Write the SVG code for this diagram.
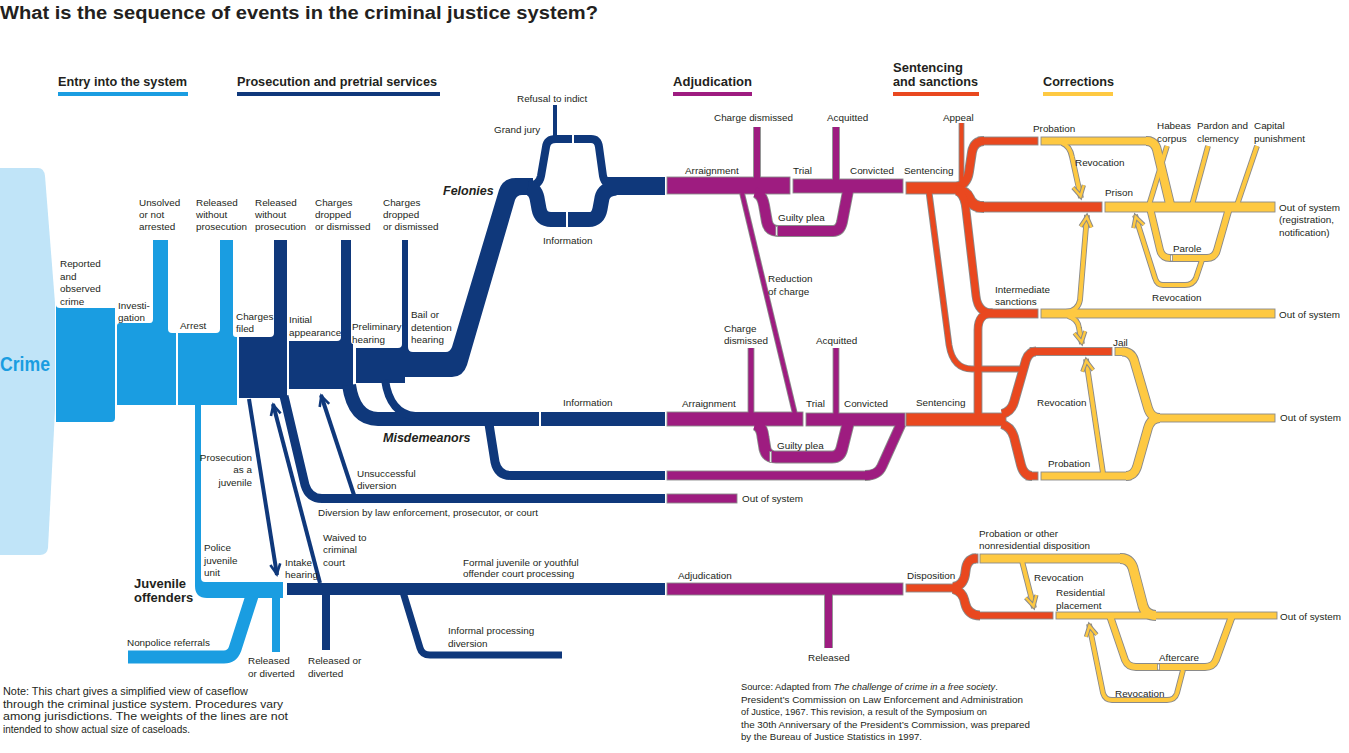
<svg xmlns="http://www.w3.org/2000/svg" width="1349" height="753" viewBox="0 0 1349 753">
<style>
text{font-family:"Liberation Sans",Arial,sans-serif;font-size:9.9px;fill:#231f20}
.b{font-weight:bold}
.bi{font-weight:bold;font-style:italic;font-size:12.5px}
.hd{font-weight:bold;font-size:13px}
.ra{text-anchor:end}
.sm{font-size:10.8px}
.src{font-size:9.8px}
.lb{fill:#1a9de1}
.nv{fill:#0f387b}
.o{fill:none;stroke:#8a8a8a;stroke-linejoin:round}
.f{fill:none;stroke-linejoin:round}
.P{stroke:#9e1c80}.R{stroke:#e9481f}.Y{stroke:#fec942}
.nls{fill:none;stroke:#0f387b;stroke-linejoin:round}
.lbs{fill:none;stroke:#1a9de1;stroke-linejoin:round}
.o.w4{stroke-width:5.8}.f.w4{stroke-width:4}
.o.w5{stroke-width:6.8}.f.w5{stroke-width:5}
.o.w6{stroke-width:7.8}.f.w6{stroke-width:6}
.o.w7{stroke-width:8.8}.f.w7{stroke-width:7}
.o.w8{stroke-width:9.8}.f.w8{stroke-width:8}
.o.w9{stroke-width:10.8}.f.w9{stroke-width:9}
.o.w10{stroke-width:11.8}.f.w10{stroke-width:10}
.o.w11{stroke-width:12.8}.f.w11{stroke-width:11}
.bp{fill:#9e1c80;stroke:#8a8a8a;stroke-width:.9}
.br{fill:#e9481f;stroke:#8a8a8a;stroke-width:.9}
.by{fill:#fec942;stroke:#8a8a8a;stroke-width:.9}
.gp{fill:#fff;stroke:#8a8a8a;stroke-width:.8}
.wg{fill:#fff}
.ay{marker-end:url(#ay)}
.an{marker-end:url(#an)}
</style>
<defs>
<marker id="ay" markerUnits="userSpaceOnUse" markerWidth="20" markerHeight="20" refX="0" refY="0" orient="auto" overflow="visible">
<path d="M-12,-5.5 L-2,0 L-12,5.5" fill="none" stroke="#8a8a8a" stroke-width="4.4"/>
<path d="M-12,-5.5 L-2,0 L-12,5.5" fill="none" stroke="#fec942" stroke-width="2.4"/>
</marker>
<marker id="an" markerUnits="userSpaceOnUse" markerWidth="20" markerHeight="20" refX="0" refY="0" orient="auto" overflow="visible">
<path d="M-11,-5 L-1,0 L-11,5" fill="none" stroke="#0f387b" stroke-width="2.6"/>
</marker>
<path id="p1" d="M757,127 V180"/>
<path id="p2" d="M836,127 V182"/>
<path id="p3" d="M755,192 Q762,194 764,205 L767,222 Q769,231 778,231 L833,231 Q840,231 842,222 L848,191"/>
<path id="p4" d="M742,193 L795,414"/>
<path id="p5" d="M751,348 V414"/>
<path id="p6" d="M836,348 V415"/>
<path id="p7" d="M755,424 Q762,426 763,437 L765,449 Q767,457 776,457 L832,457 Q840,457 842,448 L848,424"/>
<path id="p8" d="M865,475.5 Q878,475.5 882,466 L901,424"/>
<path id="p9" d="M828.5,592 V648"/>
<path id="r0" d="M961.5,123 V185"/>
<path id="r1" d="M956,187 Q967,185 969,172 L972,152 Q974,141 984,141"/>
<path id="r2" d="M956,190 Q966,191 969,198 Q972,207 984,207"/>
<path id="r3" d="M959,192 Q965,197 966,210 L976,296 Q978,313 992,313"/>
<path id="r4" d="M929,192 L949,345 Q953,369 972,369 L1024,369"/>
<path id="r5" d="M978,417 L978,330 Q978,313 993,313"/>
<path id="r6" d="M1002,414 Q1011,412 1014,402 L1026,360 Q1029,351.5 1036,351.5"/>
<path id="r7" d="M1002,424 Q1011,427 1014,437 L1021,465 Q1024,476 1032,476"/>
<path id="r8" d="M953,587 Q963,586 965,575 L966,568 Q968,558.5 976,558.5"/>
<path id="r9" d="M953,589 Q963,591 965,603 Q968,615.5 980,615.5"/>
<path id="y1" d="M1146,141 Q1155,141 1157,150 L1170,204"/>
<path id="y2" d="M1167,146 L1149,205"/>
<path id="y3" d="M1208,146 L1192,205"/>
<path id="y4" d="M1257,146 L1237,205"/>
<path id="y5" d="M1150,208 L1160,250 Q1162,258 1170,258 L1207,258 Q1215,258 1217,250 L1229,208"/>
<path id="y6" d="M1202,260 L1196,278 Q1193,285 1185,285 L1163,285 Q1157,285 1155,278 L1135,215"/>
<path id="y7" d="M1062,143 Q1070,146 1072,157 L1081,198"/>
<path id="y8" d="M1066,312 Q1078,311 1080,300 L1087,215"/>
<path id="y9" d="M1068,316 Q1078,319 1079,328 L1082,344"/>
<path id="y10" d="M1122,351.5 Q1131,351.5 1134,360 L1148,408 Q1151,418 1160,418"/>
<path id="y11" d="M1126,476 Q1134,476 1137,467 L1148,428 Q1151,418 1160,418"/>
<path id="y12" d="M1103,473 L1086,359"/>
<path id="y13" d="M1120,558.5 Q1130,558.5 1133,568 L1143,606 Q1146,615.5 1156,615.5"/>
<path id="y14" d="M1022,561 L1034,608"/>
<path id="y15" d="M1110,616 L1125,660 Q1128,667 1136,667 L1205,667 Q1213,667 1216,660 L1232,616"/>
<path id="y16" d="M1183,670 L1177,693 Q1175,700 1167,700 L1112,700 Q1105,700 1103,693 L1089,624"/>
</defs>

<rect width="1349" height="753" fill="#fff"/>

<g id="connectors">
<path d="M0,168 L38,168 Q44,168 45,176 L55,303 L55,410 L48,548 Q47,555 40,555 L0,555 Z" fill="#c0e4f8"/>
<path class="lb" d="M56,305 Q56,308 60,308 L115,308 L115,418 Q115,422 111,422 L56,422 Z"/>
<path class="lb" d="M117,326 Q117,323 120,323 L150,323 Q153,323 153,319 L153,240 L168,240 L168,329 Q168,333 172,333 L176,333 L176,405 L117,405 Z"/>
<path class="lb" d="M178,333 L216,333 Q220,333 220,329 L220,240 L233,240 L233,334 Q233,337 236,337 L237,337 L237,405 L178,405 Z"/>
<path class="lb" d="M195,404 L201,404 L201,578 Q201,582 205,582 L283,582 L283,598 L207,598 Q195,598 195,586 Z"/>
<path class="lbs" stroke-width="13" d="M128,657 L224,657 Q232,657 235,649 L252,596"/>
<rect class="lb" x="272" y="596" width="8" height="56"/>

<path class="nv" d="M239,337 L270,337 Q274,337 274,333 L274,240 L287,240 L287,398 L239,398 Z"/>
<path class="nv" d="M289,341 L337,341 Q341,341 341,337 L341,240 L351,240 L351,341 Q351,344 353,344 L353,389 L289,389 Z"/>
<path class="nv" d="M356,348 L398,348 Q402,348 402,344 L402,240 L408,240 L408,347 Q408,352 413,352 L446,352 Q450,352 452,347 L499,190 Q503,178 516,178 L533,178 L533,195 L522,195 Q517,195 515,200 L467,365 Q463,377 452,377 L405,377 L405,383 L356,383 Z"/>
<path class="nls" stroke-width="8" d="M528,186 Q539,186 541,176 L546,147 Q547,139 556,139 L591,139 Q598,139 599,147 L603,176 Q605,186 616,186"/>
<path class="nls" stroke-width="15" d="M528,188 Q535,189 537,198 L539,209 Q541,219.5 551,219.5 L589,219.5 Q598,219.5 600,209 L602,198 Q604,189 616,188"/>
<rect class="nv" x="603" y="177" width="62" height="18"/>
<rect class="nv" x="553" y="105" width="4" height="35"/>
<rect class="wg" x="572" y="133" width="2" height="12"/>
<rect class="wg" x="566" y="210" width="2" height="19"/>
<path class="nls" stroke-width="14" d="M349,385 Q354,419 378,419 L665,419"/>
<path class="nls" stroke-width="8" d="M385,380 Q390,414 415,416"/>
<rect class="wg" x="539" y="411" width="2" height="16"/>
<path class="nls" stroke-width="9" d="M489,424 L495,462 Q498,475.5 511,475.5 L665,475.5"/>
<path class="nls" stroke-width="9" d="M284,396 L305,485 Q309,498.5 322,498.5 L665,498.5"/>
<rect class="nv" x="287" y="583" width="378" height="12"/>
<path class="nls" stroke-width="7" d="M403,592 L420,648 Q422,655 430,655 L562,655"/>
<rect class="nv" x="322" y="593" width="8" height="57"/>
<path class="nls an" stroke-width="4" d="M249,399 L277,575"/>
<path class="nls an" stroke-width="4" d="M320,583 L273,404"/>
<path class="nls an" stroke-width="4" d="M354,495 L321,395"/>

<use href="#p1" class="o w6"/><use href="#p2" class="o w6"/><use href="#p3" class="o w10"/><use href="#p4" class="o w4"/>
<use href="#p5" class="o w5"/><use href="#p6" class="o w5"/><use href="#p7" class="o w11"/><use href="#p8" class="o w9"/><use href="#p9" class="o w7"/>
<use href="#r0" class="o w4"/><use href="#r1" class="o w8"/><use href="#r2" class="o w10"/><use href="#r3" class="o w7"/><use href="#r4" class="o w5"/>
<use href="#r5" class="o w7"/><use href="#r6" class="o w8"/><use href="#r7" class="o w8"/><use href="#r8" class="o w8"/><use href="#r9" class="o w8"/>
<use href="#y1" class="o w8"/><use href="#y2" class="o w4"/><use href="#y3" class="o w4"/><use href="#y4" class="o w4"/><use href="#y5" class="o w6"/>
<use href="#y6" class="o w4"/><use href="#y7" class="o w4"/><use href="#y8" class="o w4"/><use href="#y9" class="o w4"/><use href="#y10" class="o w8"/>
<use href="#y11" class="o w8"/><use href="#y12" class="o w4"/><use href="#y13" class="o w9"/><use href="#y14" class="o w4"/><use href="#y15" class="o w6"/><use href="#y16" class="o w4"/>

<rect class="bp" x="667" y="177" width="123" height="17"/>
<rect class="bp" x="793" y="179" width="110" height="14"/>
<rect class="bp" x="667" y="412" width="136" height="14"/>
<rect class="bp" x="806" y="413" width="99" height="13"/>
<rect class="bp" x="667" y="471" width="203" height="9"/>
<rect class="bp" x="667" y="494" width="70" height="9"/>
<rect class="bp" x="667" y="583" width="236" height="12"/>
<rect class="br" x="906" y="182" width="56" height="12"/>
<rect class="br" x="978" y="137" width="60" height="8"/>
<rect class="br" x="976" y="202" width="126" height="10"/>
<rect class="br" x="986" y="309" width="52" height="9"/>
<rect class="br" x="1030" y="347.5" width="82" height="8"/>
<rect class="br" x="906" y="413" width="100" height="13"/>
<rect class="br" x="1026" y="472" width="12" height="8"/>
<rect class="br" x="906" y="584" width="52" height="8"/>
<rect class="br" x="972" y="554" width="6" height="9"/>
<rect class="br" x="976" y="612" width="77" height="7"/>
<rect class="by" x="1041" y="137" width="110" height="8"/>
<rect class="by" x="1105" y="202" width="170" height="10"/>
<rect class="by" x="1041" y="309" width="234" height="9"/>
<rect class="by" x="1115" y="347.5" width="12" height="8"/>
<rect class="by" x="1155" y="414" width="120" height="8"/>
<rect class="by" x="1041" y="472" width="90" height="8"/>
<rect class="by" x="980" y="554" width="145" height="9"/>
<rect class="by" x="1056" y="612" width="221" height="7"/>

<use href="#p1" class="f w6 P"/><use href="#p2" class="f w6 P"/><use href="#p3" class="f w10 P"/><use href="#p4" class="f w4 P"/>
<use href="#p5" class="f w5 P"/><use href="#p6" class="f w5 P"/><use href="#p7" class="f w11 P"/><use href="#p8" class="f w9 P"/><use href="#p9" class="f w7 P"/>
<use href="#r0" class="f w4 R"/><use href="#r1" class="f w8 R"/><use href="#r2" class="f w10 R"/><use href="#r3" class="f w7 R"/><use href="#r4" class="f w5 R"/>
<use href="#r5" class="f w7 R"/><use href="#r6" class="f w8 R"/><use href="#r7" class="f w8 R"/><use href="#r8" class="f w8 R"/><use href="#r9" class="f w8 R"/>
<use href="#y1" class="f w8 Y"/><use href="#y2" class="f w4 Y"/><use href="#y3" class="f w4 Y"/><use href="#y4" class="f w4 Y"/><use href="#y5" class="f w6 Y"/>
<use href="#y6" class="f w4 Y ay"/><use href="#y7" class="f w4 Y ay"/><use href="#y8" class="f w4 Y ay"/><use href="#y9" class="f w4 Y ay"/><use href="#y10" class="f w8 Y"/>
<use href="#y11" class="f w8 Y"/><use href="#y12" class="f w4 Y ay"/><use href="#y13" class="f w9 Y"/><use href="#y14" class="f w4 Y ay"/><use href="#y15" class="f w6 Y"/><use href="#y16" class="f w4 Y ay"/>

<rect class="gp" x="775.8" y="226" width="1.8" height="10"/>
<rect class="gp" x="769.8" y="451.5" width="1.8" height="11"/>
<rect class="gp" x="1170.6" y="255" width="1.8" height="6"/>
<rect class="gp" x="1157.6" y="664" width="1.8" height="6"/>
</g>

<g id="title"><text x="0" y="19" class="b" style="font-size:18px" textLength="598" lengthAdjust="spacingAndGlyphs">What is the sequence of events in the criminal justice system?</text></g>
<g id="hdr-entry"><text x="58" y="86" class="hd" textLength="129" lengthAdjust="spacingAndGlyphs">Entry into the system</text><rect x="58" y="92" width="130" height="4" fill="#1a9de1"/></g>
<g id="hdr-prosecution"><text x="237" y="86" class="hd" textLength="200" lengthAdjust="spacingAndGlyphs">Prosecution and pretrial services</text><rect x="237" y="92" width="203" height="4" fill="#0f387b"/></g>
<g id="hdr-adjudication"><text x="673" y="86" class="hd" textLength="79" lengthAdjust="spacingAndGlyphs">Adjudication</text><rect x="673" y="92" width="79" height="4" fill="#9e1c80"/></g>
<g id="hdr-sentencing"><text x="893" y="72" class="hd" textLength="70" lengthAdjust="spacingAndGlyphs">Sentencing</text><text x="893" y="86" class="hd" textLength="85" lengthAdjust="spacingAndGlyphs">and sanctions</text><rect x="893" y="92" width="86" height="4" fill="#e9481f"/></g>
<g id="hdr-corrections"><text x="1043" y="86" class="hd" textLength="71" lengthAdjust="spacingAndGlyphs">Corrections</text><rect x="1043" y="92" width="70" height="4" fill="#fec942"/></g>

<g id="n-crime"><text x="0" y="371" class="b" style="font-size:21px;fill:#1a9de1" textLength="50" lengthAdjust="spacingAndGlyphs">Crime</text></g>
<g id="n-reported"><text x="60" y="267">Reported</text><text x="60" y="280">and</text><text x="60" y="292">observed</text><text x="60" y="305">crime</text></g>
<g id="n-investigation"><text x="118" y="309">Investi-</text><text x="118" y="321">gation</text></g>
<g id="n-unsolved"><text x="139" y="206">Unsolved</text><text x="139" y="218">or not</text><text x="139" y="230">arrested</text></g>
<g id="n-released-1"><text x="196" y="206">Released</text><text x="196" y="218">without</text><text x="196" y="230">prosecution</text></g>
<g id="n-arrest"><text x="180" y="329">Arrest</text></g>
<g id="n-charges-filed"><text x="236" y="320">Charges</text><text x="236" y="332">filed</text></g>
<g id="n-released-2"><text x="255" y="206">Released</text><text x="255" y="218">without</text><text x="255" y="230">prosecution</text></g>
<g id="n-dropped-1"><text x="315" y="206">Charges</text><text x="315" y="218">dropped</text><text x="315" y="230">or dismissed</text></g>
<g id="n-dropped-2"><text x="383" y="206">Charges</text><text x="383" y="218">dropped</text><text x="383" y="230">or dismissed</text></g>
<g id="n-initial"><text x="289" y="323">Initial</text><text x="289" y="336">appearance</text></g>
<g id="n-preliminary"><text x="352" y="330">Preliminary</text><text x="352" y="343">hearing</text></g>
<g id="n-bail"><text x="411" y="318">Bail or</text><text x="411" y="331">detention</text><text x="411" y="343">hearing</text></g>
<g id="n-felonies"><text x="443" y="195" class="bi">Felonies</text></g>
<g id="n-refusal"><text x="517" y="102">Refusal to indict</text></g>
<g id="n-grandjury"><text x="494" y="133">Grand jury</text></g>
<g id="n-information-f"><text x="543" y="244">Information</text></g>
<g id="n-arraignment-f"><text x="685" y="174">Arraignment</text></g>
<g id="n-chdismissed-f"><text x="714" y="121">Charge dismissed</text></g>
<g id="n-trial-f"><text x="793" y="174">Trial</text></g>
<g id="n-acquitted-f"><text x="827" y="121">Acquitted</text></g>
<g id="n-convicted-f"><text x="850" y="174">Convicted</text></g>
<g id="n-guilty-f"><text x="778" y="221">Guilty plea</text></g>
<g id="n-reduction"><text x="768" y="282">Reduction</text><text x="768" y="295">of charge</text></g>
<g id="n-sentencing-f"><text x="904" y="174">Sentencing</text></g>
<g id="n-appeal"><text x="943" y="121">Appeal</text></g>
<g id="n-probation-f"><text x="1033" y="132">Probation</text></g>
<g id="n-revocation-1"><text x="1075" y="166">Revocation</text></g>
<g id="n-prison"><text x="1105" y="196">Prison</text></g>
<g id="n-habeas"><text x="1157" y="129">Habeas</text><text x="1157" y="142">corpus</text></g>
<g id="n-pardon"><text x="1197" y="129">Pardon and</text><text x="1197" y="142">clemency</text></g>
<g id="n-capital"><text x="1254" y="129">Capital</text><text x="1254" y="142">punishment</text></g>
<g id="n-out-1"><text x="1279" y="211">Out of system</text><text x="1279" y="223">(registration,</text><text x="1279" y="236">notification)</text></g>
<g id="n-parole"><text x="1173" y="252">Parole</text></g>
<g id="n-revocation-2"><text x="1152" y="301">Revocation</text></g>
<g id="n-intermediate"><text x="995" y="293">Intermediate</text><text x="995" y="305">sanctions</text></g>
<g id="n-out-2"><text x="1279" y="318">Out of system</text></g>
<g id="n-jail"><text x="1113" y="346">Jail</text></g>
<g id="n-revocation-3"><text x="1037" y="406">Revocation</text></g>
<g id="n-out-3"><text x="1280" y="421">Out of system</text></g>
<g id="n-probation-m"><text x="1048" y="467">Probation</text></g>
<g id="n-sentencing-m"><text x="916" y="406">Sentencing</text></g>
<g id="n-information-m"><text x="563" y="406">Information</text></g>
<g id="n-misdemeanors"><text x="383" y="442" class="bi">Misdemeanors</text></g>
<g id="n-arraignment-m"><text x="682" y="407">Arraignment</text></g>
<g id="n-chdismissed-m"><text x="724" y="332">Charge</text><text x="724" y="344">dismissed</text></g>
<g id="n-trial-m"><text x="806" y="407">Trial</text></g>
<g id="n-acquitted-m"><text x="816" y="344">Acquitted</text></g>
<g id="n-convicted-m"><text x="844" y="407">Convicted</text></g>
<g id="n-guilty-m"><text x="777" y="449">Guilty plea</text></g>
<g id="n-out-m"><text x="742" y="502">Out of system</text></g>
<g id="n-unsuccessful"><text x="357" y="477">Unsuccessful</text><text x="357" y="489">diversion</text></g>
<g id="n-diversion"><text x="318" y="516">Diversion by law enforcement, prosecutor, or court</text></g>
<g id="n-prosecution-juvenile"><text x="252" y="461" class="ra">Prosecution</text><text x="252" y="473" class="ra">as a</text><text x="252" y="486" class="ra">juvenile</text></g>
<g id="n-police"><text x="204" y="551">Police</text><text x="204" y="564">juvenile</text><text x="204" y="576">unit</text></g>
<g id="n-juvenile"><text x="134" y="588" class="b" style="font-size:13px">Juvenile</text><text x="134" y="602" class="b" style="font-size:13px">offenders</text></g>
<g id="n-intake"><text x="285" y="566">Intake</text><text x="285" y="578">hearing</text></g>
<g id="n-waived"><text x="323" y="541">Waived to</text><text x="323" y="553">criminal</text><text x="323" y="566">court</text></g>
<g id="n-formal"><text x="463" y="566">Formal juvenile or youthful</text><text x="463" y="577">offender court processing</text></g>
<g id="n-adjudication-j"><text x="678" y="579">Adjudication</text></g>
<g id="n-nonpolice"><text x="127" y="646">Nonpolice referrals</text></g>
<g id="n-released-diverted-1"><text x="248" y="664">Released</text><text x="248" y="677">or diverted</text></g>
<g id="n-released-diverted-2"><text x="308" y="664">Released or</text><text x="308" y="677">diverted</text></g>
<g id="n-informal"><text x="448" y="634">Informal processing</text><text x="448" y="647">diversion</text></g>
<g id="n-released-j"><text x="808" y="661">Released</text></g>
<g id="n-disposition"><text x="907" y="579">Disposition</text></g>
<g id="n-probation-j"><text x="979" y="537">Probation or other</text><text x="979" y="549">nonresidential disposition</text></g>
<g id="n-revocation-j1"><text x="1034" y="581">Revocation</text></g>
<g id="n-residential"><text x="1056" y="596">Residential</text><text x="1056" y="609">placement</text></g>
<g id="n-out-j"><text x="1280" y="620">Out of system</text></g>
<g id="n-aftercare"><text x="1159" y="661">Aftercare</text></g>
<g id="n-revocation-j2"><text x="1115" y="697">Revocation</text></g>

<g id="note">
<text x="3" y="695" class="sm" textLength="245" lengthAdjust="spacingAndGlyphs">Note: This chart gives a simplified view of caseflow</text>
<text x="3" y="708" class="sm" textLength="280" lengthAdjust="spacingAndGlyphs">through the criminal justice system. Procedures vary</text>
<text x="3" y="720" class="sm" textLength="285" lengthAdjust="spacingAndGlyphs">among jurisdictions. The weights of the lines are not</text>
<text x="3" y="733" class="sm" textLength="187" lengthAdjust="spacingAndGlyphs">intended to show actual size of caseloads.</text>
</g>
<g id="source">
<text x="741" y="690" style="font-size:9.3px">Source: Adapted from <tspan font-style="italic">The challenge of crime in a free society</tspan>.</text>
<text x="741" y="703" class="src" textLength="282" lengthAdjust="spacingAndGlyphs">President’s Commission on Law Enforcement and Administration</text>
<text x="741" y="715" class="src" textLength="246" lengthAdjust="spacingAndGlyphs">of Justice, 1967. This revision, a result of the Symposium on</text>
<text x="741" y="728" class="src" textLength="289" lengthAdjust="spacingAndGlyphs">the 30th Anniversary of the President’s Commission, was prepared</text>
<text x="741" y="740" class="src" textLength="181" lengthAdjust="spacingAndGlyphs">by the Bureau of Justice Statistics in 1997.</text>
</g>
</svg>
